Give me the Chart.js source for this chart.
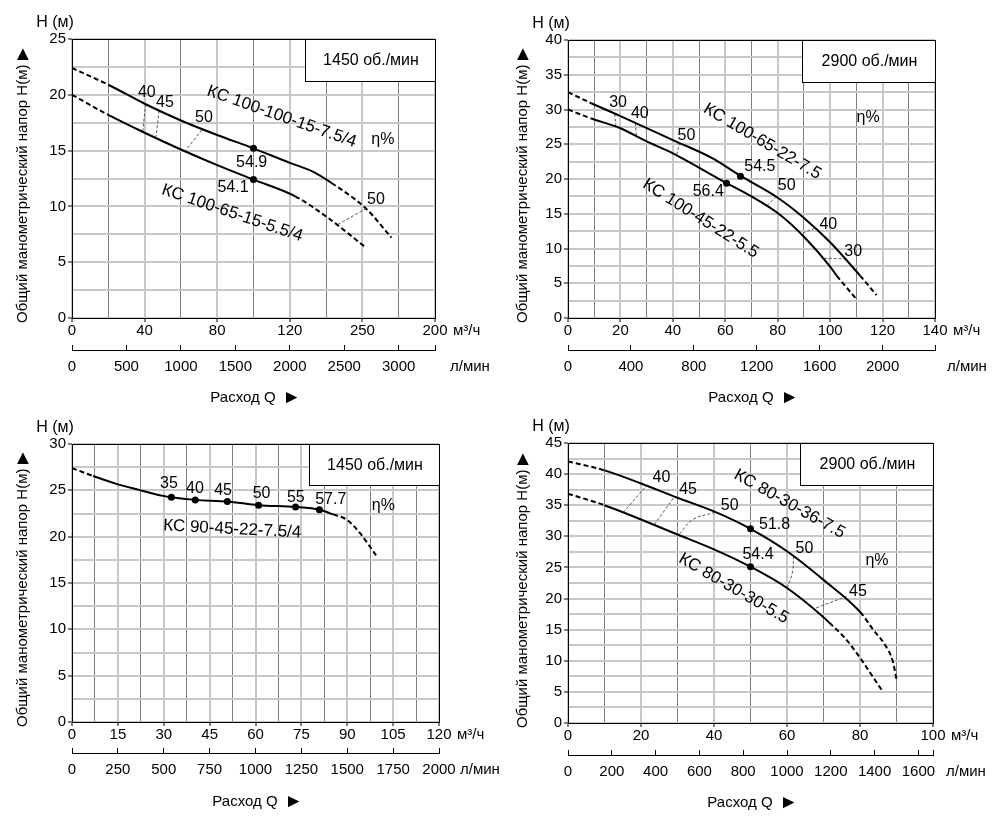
<!DOCTYPE html>
<html>
<head>
<meta charset="utf-8">
<script src="https://cdn.jsdelivr.net/npm/chart.js@4.4.1/dist/chart.umd.min.js"></script>
<style>
  body { margin: 0; background: #fff; }
  #wrap { position: relative; width: 1001px; height: 822px; }
  canvas { position: absolute; }
</style>
</head>
<body>
<div id="wrap">
  <canvas id="c1" width="500" height="410" style="left:0;top:0"></canvas>
  <canvas id="c2" width="501" height="410" style="left:500px;top:0"></canvas>
  <canvas id="c3" width="500" height="412" style="left:0;top:410px"></canvas>
  <canvas id="c4" width="501" height="412" style="left:500px;top:410px"></canvas>
</div>
<script>
// ---------- data ----------
// top left: 1450 об./мин
const tlFlowLabels = ['0', '40', '80', '120', '250', '200'];
const tlLitreLabels = ['0', '500', '1000', '1500', '2000', '2500', '3000'];
const tlHeadLabels = ['0', '5', '10', '15', '20', '25'];
const tlQ1 = [0, 20, 40, 60, 80, 100, 120, 133, 143, 162, 176];
const tlH1 = [22.4, 20.9, 19.2, 17.7, 16.4, 15.2, 13.9, 13.1, 12.1, 9.8, 7.2];
const tlQ2 = [0, 20, 40, 60, 80, 100, 123, 140, 162];
const tlH2 = [20.0, 18.2, 16.6, 15.1, 13.7, 12.4, 10.9, 9.1, 6.3];
const tlIsoEff = [40, 45, 50, 50];
const tlIsoQ = [[40.6, 39.0], [48.0, 46.3], [71.5, 62.6], [162.3, 146.7]];
const tlIsoH = [[19.2, 16.75], [18.6, 16.25], [16.85, 15.0], [9.83, 8.4]];
const tlDutyEff = [54.9, 54.1];
const tlDutyQ = [100, 100];
const tlDutyH = [15.2, 12.4];

// top right: 2900 об./мин
const trFlowLabels = ['0', '20', '40', '60', '80', '100', '120', '140'];
const trLitreLabels = ['0', '400', '800', '1200', '1600', '2000'];
const trHeadLabels = ['0', '5', '10', '15', '20', '25', '30', '35', '40'];
const trQ1 = [0, 8.9, 20, 40, 55, 66, 80, 90, 100, 111.4, 117.7];
const trH1 = [32.5, 30.9, 29.05, 25.6, 23.0, 20.4, 17.3, 14.4, 10.9, 6.1, 3.3];
const trQ2 = [0, 8.9, 20, 30, 40, 60.5, 70, 80, 90, 100, 102.5, 110.3];
const trH2 = [30.0, 28.7, 27.3, 25.4, 23.7, 19.4, 17.5, 15.1, 11.7, 7.4, 6.1, 2.6];
const trIsoEff = [30, 40, 50, 50, 40, 30];
const trIsoQ = [[17.8, 18.3], [25.7, 26.1], [42.6, 41.4], [79.5, 75.7], [94.2, 88.5], [106.3, 96.7]];
const trIsoH = [[29.4, 27.5], [28.1, 26.1], [25.3, 23.4], [17.5, 16.1], [12.9, 12.1], [8.5, 8.6]];
const trDutyEff = [54.5, 56.4];
const trDutyQ = [65.8, 60.5];
const trDutyH = [20.4, 19.4];

// bottom left: 1450 об./мин
const blFlowLabels = ['0', '15', '30', '45', '60', '75', '90', '105', '120'];
const blLitreLabels = ['0', '250', '500', '750', '1000', '1250', '1500', '1750', '2000'];
const blHeadLabels = ['0', '5', '10', '15', '20', '25', '30'];
const blQ = [0, 6.9, 14.5, 21.9, 29.8, 32.5, 40.3, 50.8, 61, 73.1, 80.9, 85.4, 90, 94.1, 99.6];
const blH = [27.4, 26.55, 25.7, 25.05, 24.4, 24.25, 23.97, 23.8, 23.4, 23.2, 22.9, 22.4, 21.8, 20.4, 17.9];
const blDutyEff = [35, 40, 45, 50, 55, 57.7];
const blDutyQ = [32.5, 40.3, 50.8, 61, 73.1, 80.9];
const blDutyH = [24.25, 23.97, 23.8, 23.4, 23.2, 22.9];

// bottom right: 2900 об./мин
const brFlowLabels = ['0', '20', '40', '60', '80', '100'];
const brLitreLabels = ['0', '200', '400', '600', '800', '1000', '1200', '1400', '1600'];
const brHeadLabels = ['0', '5', '10', '15', '20', '25', '30', '35', '40', '45'];
const brQ1 = [0, 10, 20, 30, 40, 50, 60, 70, 80.1, 83.6, 86.8, 89, 90];
const brH1 = [42.05, 40.6, 38.5, 36.2, 34.0, 31.2, 27.6, 23.0, 17.8, 15.0, 12.6, 9.9, 7.0];
const brQ2 = [0, 10, 20, 30, 40, 50, 60, 70, 71.6, 75.8, 80.1, 83.1, 85.9];
const brH2 = [36.85, 35.0, 32.7, 30.3, 27.9, 25.1, 21.7, 17.0, 16.1, 13.7, 10.4, 7.8, 5.35];
const brIsoEff = [40, 45, 50, 50, 45];
const brIsoQ = [[15.1, 21.5], [23.6, 29.2], [30.6, 34.2, 40.2], [60.1, 61.5, 61.8], [68, 76.3]];
const brIsoH = [[33.8, 38.15], [31.85, 36.4], [30.4, 32.7, 33.85], [21.7, 24.3, 26.8], [18.5, 20.35]];
const brDutyEff = [51.8, 54.4];
const brDutyQ = [50, 50];
const brDutyH = [31.2, 25.1];

const yTitle = 'Общий манометрический напор H(м)';
const yUnit = 'H (м)';
const xTitle = 'Расход Q';
const flowUnit = 'м³/ч';
const litreUnit = 'л/мин';

// ---------- layout of the four panels ----------
const panels = [
  { id: 'c1', w: 500, h: 410, area: [72, 39, 435, 318], axisLine: 350,
    xMax: 200, xStep: 20, flowLabels: tlFlowLabels, litreStep: 500, litreLabels: tlLitreLabels,
    yMax: 25, headLabels: tlHeadLabels,
    curves: [[tlQ1, tlH1, 1, 8], [tlQ2, tlH2, 1, 6]],
    iso: [tlIsoQ, tlIsoH, tlIsoEff], isoAt: [[41.2, 20.2], [51.2, 19.3], [72.7, 18.0], [167.5, 10.6]],
    duty: [tlDutyQ, tlDutyH, tlDutyEff], dutyAt: [[99, 13.95], [88.7, 11.7]],
    etaAt: [171.3, 16.0],
    names: [['КС 100-100-15-7.5/4', 115.5, 18.04, 19.4], ['КС 100-65-15-5.5/4', 88.3, 9.4, 18.8]],
    speed: '1450 об./мин', boxW: 130, boxH: 42, lpmDx: 15 },
  { id: 'c2', w: 501, h: 410, area: [68, 40, 435, 318], axisLine: 350,
    xMax: 140, xStep: 10, flowLabels: trFlowLabels, litreStep: 400, litreLabels: trLitreLabels,
    yMax: 40, headLabels: trHeadLabels,
    curves: [[trQ1, trH1, 1, 9], [trQ2, trH2, 1, 10]],
    iso: [trIsoQ, trIsoH, trIsoEff],
    isoAt: [[19.1, 31.0], [27.4, 29.45], [45.2, 26.2], [83.4, 19.05], [99.3, 13.4], [108.8, 9.57]],
    duty: [trDutyQ, trDutyH, trDutyEff], dutyAt: [[73.2, 21.8], [53.5, 18.2]],
    etaAt: [114.5, 28.9],
    names: [['КС 100-65-22-7.5', 74.1, 25.4, 30.6], ['КС 100-45-22-5.5', 50.6, 14.3, 32.4]],
    speed: '2900 об./мин', boxW: 133, boxH: 42, lpmDx: 12 },
  { id: 'c3', w: 500, h: 412, area: [72, 34, 439, 312], axisLine: 343,
    xMax: 120, xStep: 7.5, flowLabels: blFlowLabels, litreStep: 250, litreLabels: blLitreLabels,
    yMax: 30, headLabels: blHeadLabels,
    curves: [[blQ, blH, 1, 11]],
    iso: null, isoAt: [],
    duty: [blDutyQ, blDutyH, blDutyEff],
    dutyAt: [[31.7, 25.7], [40.2, 25.2], [49.4, 25.0], [62.0, 24.6], [73.2, 24.25], [84.6, 24.0]],
    etaAt: [101.8, 23.4],
    names: [['КС 90-45-22-7.5/4', 52.4, 20.8, 3]],
    speed: '1450 об./мин', boxW: 130, boxH: 41, lpmDx: 21 },
  { id: 'c4', w: 501, h: 412, area: [68, 33, 433, 313], axisLine: 345,
    xMax: 100, xStep: 10, flowLabels: brFlowLabels, litreStep: 200, litreLabels: brLitreLabels,
    yMax: 45, headLabels: brHeadLabels,
    curves: [[brQ1, brH1, 1, 8], [brQ2, brH2, 1, 8]],
    iso: [brIsoQ, brIsoH, brIsoEff],
    isoAt: [[25.6, 39.37], [32.9, 37.5], [44.3, 34.9], [64.8, 27.97], [79.45, 21.15]],
    duty: [brDutyQ, brDutyH, brDutyEff], dutyAt: [[56.6, 31.87], [52.05, 27.05]],
    etaAt: [84.66, 26.13],
    names: [['КС 80-30-36-7.5', 60.7, 35.2, 29.2], ['КС 80-30-30-5.5', 45.4, 21.6, 30.2]],
    speed: '2900 об./мин', boxW: 133, boxH: 42, lpmDx: 13 }
];

const FONT = '"Liberation Sans", Arial, sans-serif';
Chart.defaults.font.family = FONT;
Chart.defaults.font.size = 15;
Chart.defaults.color = '#000';

function pts(qs, hs) {
  return qs.map((q, i) => ({ x: q, y: hs[i] }));
}

function steps(max, step) {
  const v = [];
  for (let s = 0; s <= max + 1e-6; s += step) v.push(s);
  return v;
}

function curveSet(qs, hs, solidFrom, solidTo) {
  return {
    data: pts(qs, hs), showLine: true, borderColor: '#000', borderWidth: 2,
    pointRadius: 0, tension: 0.4, cubicInterpolationMode: 'monotone',
    segment: {
      borderDash: c => (c.p0DataIndex < solidFrom || c.p0DataIndex >= solidTo) ? [5, 3] : []
    }
  };
}

function isoSet(qs, hs) {
  return {
    data: pts(qs, hs), showLine: true, borderColor: '#555', borderWidth: 1,
    borderDash: [3, 2], pointRadius: 0, tension: 0.4
  };
}

function text(ctx, s, x, y, size, align, rot) {
  ctx.save();
  ctx.translate(x, y);
  if (rot) ctx.rotate(rot * Math.PI / 180);
  ctx.font = size + 'px ' + FONT;
  ctx.fillStyle = '#000';
  ctx.textAlign = align || 'center';
  ctx.textBaseline = 'middle';
  ctx.fillText(s, 0, 0);
  ctx.restore();
}

function decor(p) {
  return {
    id: 'decor' + p.id,
    afterDatasetsDraw(chart) {
      const { ctx, chartArea: a, scales } = chart;
      const px = q => scales.x.getPixelForValue(q);
      const py = h => scales.y.getPixelForValue(h);
      ctx.save();
      ctx.strokeStyle = '#000';
      ctx.lineWidth = 1;
      ctx.strokeRect(a.left + 0.5, a.top + 0.5, a.right - a.left, a.bottom - a.top);
      // speed box
      ctx.fillStyle = '#fff';
      ctx.fillRect(a.right - p.boxW, a.top, p.boxW, p.boxH);
      ctx.strokeRect(a.right - p.boxW + 0.5, a.top + 0.5, p.boxW, p.boxH);
      ctx.restore();
      text(ctx, p.speed, a.right - p.boxW / 2 + 1, a.top + p.boxH / 2 + 1, 16);
      if (p.iso) p.isoAt.forEach((at, i) => text(ctx, String(p.iso[2][i]), px(at[0]), py(at[1]), 16));
      p.dutyAt.forEach((at, i) => text(ctx, String(p.duty[2][i]), px(at[0]), py(at[1]), 16));
      text(ctx, 'η%', px(p.etaAt[0]), py(p.etaAt[1]), 16);
      p.names.forEach(n => text(ctx, n[0], px(n[1]), py(n[2]), 17, 'center', n[3]));
    },
    afterDraw(chart) {
      const { ctx, chartArea: a } = chart;
      text(ctx, yUnit, a.left - 17, a.top - 16.5, 16);
      text(ctx, flowUnit, a.right + 18, a.bottom + 13, 15, 'left');
      text(ctx, litreUnit, a.right + p.lpmDx, p.axisLine + 17, 15, 'left');
      // rotated axis title with arrow
      ctx.save();
      ctx.translate(23, a.bottom + 5);
      ctx.rotate(-Math.PI / 2);
      ctx.font = '15px ' + FONT;
      ctx.fillStyle = '#000';
      ctx.textAlign = 'left';
      ctx.textBaseline = 'middle';
      ctx.fillText(yTitle, 0, 0);
      const tw = ctx.measureText(yTitle).width;
      ctx.rotate(Math.PI / 2);
      ctx.font = '20px ' + FONT;
      ctx.textAlign = 'center';
      ctx.fillText('▲', 0, -(tw + 10));
      ctx.restore();
      // flow title with arrow
      ctx.save();
      ctx.font = '15px ' + FONT;
      const qw = ctx.measureText(xTitle).width;
      ctx.restore();
      const total = qw + 21;
      const x0 = (a.left + a.right) / 2 - total / 2;
      text(ctx, xTitle, x0, a.bottom + 80, 15, 'left');
      text(ctx, '►', x0 + qw + 16, a.bottom + 80, 19, 'center');
    }
  };
}

function makePanel(p) {
  const [left, top, right, bottom] = p.area;
  const xVals = steps(p.xMax, p.xStep);
  const yVals = steps(p.yMax, 2.5);
  const litreMax = p.xMax * 1000 / 60;
  const lVals = p.litreLabels.map((_, i) => i * p.litreStep);
  if (litreMax - lVals[lVals.length - 1] > 1) lVals.push(litreMax);

  const datasets = p.curves.map(c => curveSet(c[0], c[1], c[2], c[3]));
  if (p.iso) p.iso[0].forEach((qs, i) => datasets.push(isoSet(qs, p.iso[1][i])));
  datasets.push({
    data: pts(p.duty[0], p.duty[1]), showLine: false, pointRadius: 3.5,
    pointBackgroundColor: '#000', pointBorderWidth: 0
  });

  new Chart(document.getElementById(p.id), {
    type: 'scatter',
    data: { datasets },
    options: {
      responsive: false,
      animation: false,
      devicePixelRatio: 1,
      events: [],
      layout: { padding: { left: 0, top: top, right: p.w - right, bottom: p.h - p.axisLine - 30 } },
      plugins: { legend: { display: false }, tooltip: { enabled: false } },
      scales: {
        x: {
          type: 'linear', position: 'bottom', min: 0, max: p.xMax,
          afterBuildTicks: s => { s.ticks = xVals.map(v => ({ value: v })); },
          afterFit: s => { s.height = p.axisLine - bottom; },
          ticks: {
            autoSkip: false, maxRotation: 0, padding: 0,
            callback: (v, i) => (i % 2 ? '' : p.flowLabels[i / 2])
          },
          grid: {
            color: c => (c.index % 2 ? '#7f7f7f' : '#c8c8c8'),
            lineWidth: c => (c.index % 2 ? 1 : 2),
            tickColor: c => (c.index % 2 ? 'rgba(0,0,0,0)' : '#000'),
            tickWidth: 1, tickLength: 4
          },
          border: { color: '#000', width: 1 }
        },
        x2: {
          type: 'linear', position: 'bottom', min: 0, max: litreMax,
          afterBuildTicks: s => { s.ticks = lVals.map(v => ({ value: v })); },
          afterFit: s => { s.height = 30; },
          ticks: {
            autoSkip: false, maxRotation: 0, padding: 13,
            callback: (v, i) => p.litreLabels[i] || ''
          },
          grid: { drawOnChartArea: false, tickLength: -5, tickColor: '#000', tickWidth: 1 },
          border: { color: '#000', width: 1 }
        },
        y: {
          type: 'linear', position: 'left', min: 0, max: p.yMax,
          afterBuildTicks: s => { s.ticks = yVals.map(v => ({ value: v })); },
          afterFit: s => { s.width = left; },
          ticks: {
            autoSkip: false, padding: 2,
            callback: (v, i) => (i % 2 ? '' : p.headLabels[i / 2])
          },
          grid: {
            color: '#c8c8c8', lineWidth: 2,
            tickColor: c => (c.index % 2 ? 'rgba(0,0,0,0)' : '#000'),
            tickWidth: 1, tickLength: 4
          },
          border: { color: '#000', width: 1 }
        }
      }
    },
    plugins: [decor(p)]
  });
}

panels.forEach(makePanel);
</script>
</body>
</html>
